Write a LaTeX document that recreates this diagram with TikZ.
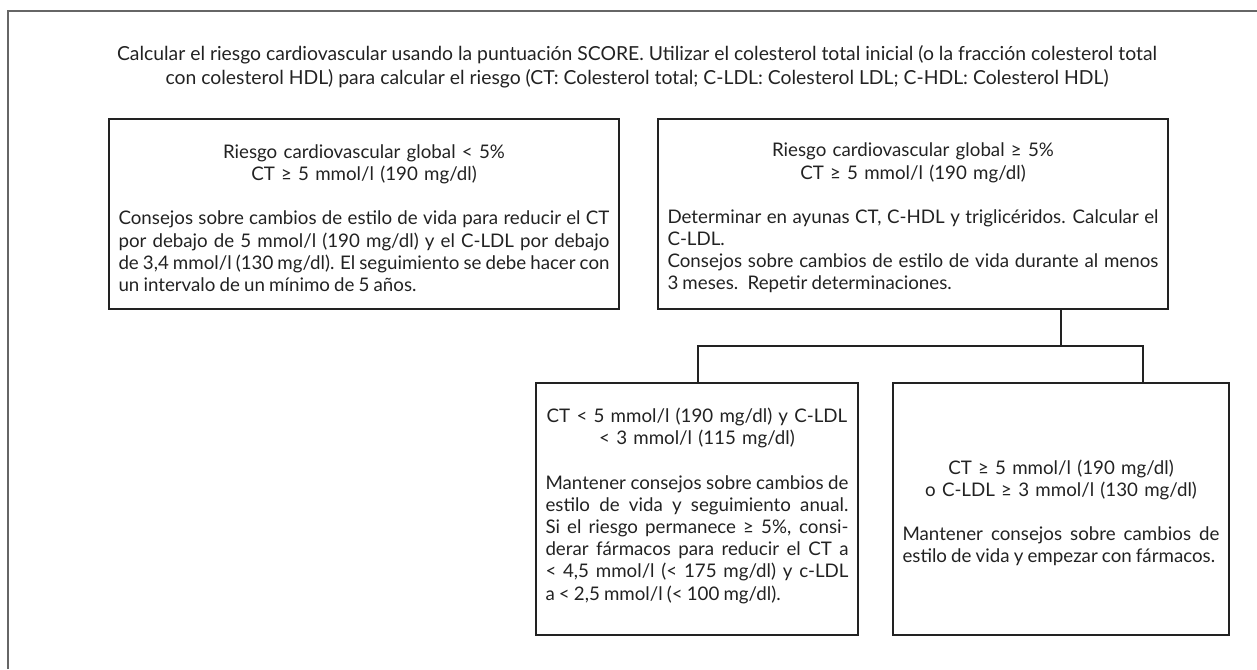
\documentclass[tikz,border=0pt]{standalone}
\usepackage{fontspec}
\setmainfont{Lato}
\newsavebox\calbox
\newdimen\caldim
\AtBeginDocument{%
  \sbox\calbox{\fontsize{10}{12}\selectfont Calcular el riesgo cardiovascular usando la puntuación SCORE. Utilizar el colesterol total inicial (o la fracción colesterol total}%
  \caldim=\wd\calbox
  \ifdim\caldim<1pt \caldim=600pt\fi
  \pgfmathsetmacro\fszA{10*1040/\caldim}%
  \xdef\fszA{\fszA}%
  \sbox\calbox{\fontsize{10}{12}\selectfont Riesgo cardiovascular global ≥ 5\%}%
  \caldim=\wd\calbox
  \ifdim\caldim<1pt \caldim=165pt\fi
  \pgfmathsetmacro\fszB{10*276/\caldim}%
  \xdef\fszB{\fszB}%
}
% justified line, centred line, ragged (left-aligned) line, blank gap
\newcommand\jl[1]{\par\hbox to\hsize{\spaceskip=0.22em plus 1em minus 0.06em\xspaceskip=0.3em plus 1em minus 0.06em\relax#1}}
\newcommand\cl[1]{\par\hbox to\hsize{\hss#1\hss}}
\newcommand\rl[1]{\par\hbox to\hsize{\spaceskip=0.22em\relax#1\hfil}}
\newcommand\gap[1]{\par\vspace{#1}}
\definecolor{ink}{HTML}{222222}
\definecolor{framec}{HTML}{666666}
\tikzset{
  txt/.style={font=\fontsize{\fszB}{22.2}\selectfont, text=ink},
  box/.style={txt, draw=ink, line width=1.1pt, rectangle, inner xsep=9.5pt, inner ysep=0pt},
  conn/.style={draw=ink, line width=2.2pt},
  frameline/.style={draw=framec, line width=1.3pt},
}
\begin{document}
\begin{tikzpicture}[x=1pt,y=-1pt]
\useasboundingbox (0,0) rectangle (1257,669);
\draw[frameline] (8,669) -- (8,11) -- (1257,11);
\node[text=ink, font=\fontsize{\fszA}{24}\selectfont, align=center] (intro) at (637,67)
 {Calcular el riesgo cardiovascular usando la puntuación SCORE. Utilizar el colesterol total inicial (o la fracción colesterol total\\
 con colesterol HDL) para calcular el riesgo (CT: Colesterol total; C-LDL: Colesterol LDL; C-HDL: Colesterol HDL)};

\node[box, text width=491pt, minimum height=190pt] (tl) at (364,214) {%
\cl{Riesgo cardiovascular global < 5\%}%
\cl{CT ≥ 5 mmol/l (190 mg/dl)}%
\gap{22pt}%
\jl{Consejos sobre cambios de estilo de vida para reducir el CT}%
\jl{por debajo de 5 mmol/l (190 mg/dl) y el C-LDL por debajo}%
\jl{de 3,4 mmol/l (130 mg/dl). El seguimiento se debe hacer con}%
\rl{un intervalo de un mínimo de 5 años.}};

\node[box, text width=491pt, minimum height=190pt] (tr) at (913,214) {%
\cl{Riesgo cardiovascular global ≥ 5\%}%
\cl{CT ≥ 5 mmol/l (190 mg/dl)}%
\gap{22pt}%
\jl{Determinar en ayunas CT, C-HDL y triglicéridos. Calcular el}%
\rl{C-LDL.}%
\jl{Consejos sobre cambios de estilo de vida durante al menos}%
\rl{3 meses. Repetir determinaciones.}};

\node[box, text width=303pt, minimum height=252pt] (bl) at (697,509) {%
\cl{CT < 5 mmol/l (190 mg/dl) y C-LDL}%
\cl{< 3 mmol/l (115 mg/dl)}%
\gap{22pt}%
\jl{Mantener consejos sobre cambios de}%
\jl{estilo de vida y seguimiento anual.}%
\jl{Si el riesgo permanece ≥ 5\%, consi-}%
\jl{derar fármacos para reducir el CT a}%
\jl{< 4,5 mmol/l (< 175 mg/dl) y c-LDL}%
\rl{a < 2,5 mmol/l (< 100 mg/dl).}%
\gap{14pt}};

\node[box, text width=317pt, minimum height=252pt] (br) at (1061,509) {%
\cl{CT ≥ 5 mmol/l (190 mg/dl)}%
\cl{o C-LDL ≥ 3 mmol/l (130 mg/dl)}%
\gap{22pt}%
\jl{Mantener consejos sobre cambios de}%
\rl{estilo de vida y empezar con fármacos.}};

\coordinate (jt) at (1061,346);
\coordinate (jl) at (698,346);
\coordinate (jr) at (1143,346);
\draw[conn] (jt |- tr.south) -- (jt);
\draw[conn] (jl |- bl.north) -- (jl) -- (jr) -- (jr |- br.north);
\end{tikzpicture}
\end{document}
